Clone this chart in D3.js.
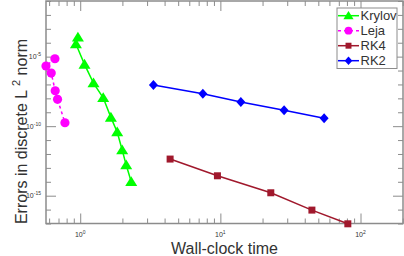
<!DOCTYPE html>
<html>
<head>
<meta charset="utf-8">
<script src="https://cdn.jsdelivr.net/npm/d3@7"></script>
<style>
body { margin: 0; background: #fff; }
text { font-family: "Liberation Sans", Arial, sans-serif; }
</style>
</head>
<body>
<div id="chart"></div>
<script>
//////////////////////////////////////////////////////////////////////////////
// Data (wall-clock time vs error)

var krylovTime = [0.963, 0.932, 1.073, 1.244, 1.459, 1.655, 1.836, 1.993, 2.129, 2.312];
var krylovErr  = [2.45e-4, 8.06e-5, 2.79e-6, 1.26e-7, 1.10e-8, 4.30e-10, 3.77e-11, 1.91e-12, 1.59e-13, 1.0e-14];

var lejaTime = [0.660, 0.570, 0.621, 0.663, 0.689, 0.778];
var lejaErr  = [7.06e-6, 2.11e-6, 6.6e-7, 3.52e-8, 8.47e-9, 1.76e-10];

var rk4Time = [4.38, 9.53, 22.9, 45.0, 81.2];
var rk4Err  = [4.30e-13, 2.70e-14, 1.62e-15, 9.2e-17, 9.5e-18];

var rk2Time = [3.33, 7.50, 14.0, 28.5, 55.0];
var rk2Err  = [9.06e-8, 2.14e-8, 5.42e-9, 1.37e-9, 3.64e-10];

var seriesNames = ["Krylov", "Leja", "RK4", "RK2"];

var xMajorExp = [0, 1, 2];
var yMajorExp = [-5, -10, -15];

//////////////////////////////////////////////////////////////////////////////

var svgWidth = 404, svgHeight = 256;
var plotLeft = 46, plotRight = 403, plotTop = 1, plotBottom = 223.5;
var frameColor = "#8c8c8c";

var xScale = d3.scaleLog().domain([0.57, 201]).range([plotLeft, plotRight]);
var yScale = d3.scaleLog().domain([1e-17, 1e-1]).range([plotBottom, plotTop]);

var series = [
    {name: seriesNames[0], x: krylovTime, y: krylovErr, color: "#00ff00", shape: "triangle", dash: null},
    {name: seriesNames[1], x: lejaTime,   y: lejaErr,   color: "#ff00ff", shape: "circle",   dash: "3,3"},
    {name: seriesNames[2], x: rk4Time,    y: rk4Err,    color: "#a0182c", shape: "square",   dash: null},
    {name: seriesNames[3], x: rk2Time,    y: rk2Err,    color: "#0000ff", shape: "diamond",  dash: null}
];

function markerPath(shape, s) {
    if (shape == "triangle") return "M0," + (-5.5 * s) + "L" + (6 * s) + "," + (4.3 * s) + "L" + (-6 * s) + "," + (4.3 * s) + "Z";
    if (shape == "diamond")  return "M0," + (-5 * s) + "L" + (4.5 * s) + ",0L0," + (5 * s) + "L" + (-4.5 * s) + ",0Z";
    if (shape == "square")   return "M" + (-3.5 * s) + "," + (-3.5 * s) + "h" + (7 * s) + "v" + (7 * s) + "h" + (-7 * s) + "Z";
    var r = 4.6 * s;
    return "M" + r + ",0A" + r + "," + r + " 0 1,1 " + (-r) + ",0A" + r + "," + r + " 0 1,1 " + r + ",0Z";
}

var svg = d3.select("#chart")
    .append("svg")
    .attr("width", svgWidth)
    .attr("height", svgHeight);

//////////////////////////////////////////////////////////////////////////////
// Frame and ticks (inward, mirrored on all four sides)

var xMinor = [];
for (var e = -1; e <= 2; ++e)
    for (var m = 2; m <= 9; ++m) {
        var v = m * Math.pow(10, e);
        if (v >= xScale.domain()[0] && v <= xScale.domain()[1]) xMinor.push(v);
    }
var xMajor = xMajorExp.map(function(e) { return Math.pow(10, e); });

var yMinor = d3.range(-17, 0).filter(function(e) { return e % 5 != 0; })
    .map(function(e) { return Math.pow(10, e); });
var yMajor = yMajorExp.map(function(e) { return Math.pow(10, e); });

function styleAxis(g) {
    g.select(".domain").remove();
    g.selectAll("line").attr("stroke", frameColor).attr("stroke-width", 1);
    g.selectAll("text").remove();
}

svg.append("g").attr("transform", "translate(0," + plotBottom + ")")
    .call(d3.axisBottom(xScale).tickValues(xMinor).tickSize(-5)).call(styleAxis);
svg.append("g").attr("transform", "translate(0," + plotBottom + ")")
    .call(d3.axisBottom(xScale).tickValues(xMajor).tickSize(-10)).call(styleAxis);
svg.append("g").attr("transform", "translate(0," + plotTop + ")")
    .call(d3.axisTop(xScale).tickValues(xMinor).tickSize(-5)).call(styleAxis);
svg.append("g").attr("transform", "translate(0," + plotTop + ")")
    .call(d3.axisTop(xScale).tickValues(xMajor).tickSize(-10)).call(styleAxis);

svg.append("g").attr("transform", "translate(" + plotLeft + ",0)")
    .call(d3.axisLeft(yScale).tickValues(yMinor).tickSize(-5)).call(styleAxis);
svg.append("g").attr("transform", "translate(" + plotLeft + ",0)")
    .call(d3.axisLeft(yScale).tickValues(yMajor).tickSize(-10)).call(styleAxis);
svg.append("g").attr("transform", "translate(" + plotRight + ",0)")
    .call(d3.axisRight(yScale).tickValues(yMinor).tickSize(-5)).call(styleAxis);
svg.append("g").attr("transform", "translate(" + plotRight + ",0)")
    .call(d3.axisRight(yScale).tickValues(yMajor).tickSize(-10)).call(styleAxis);

svg.append("rect")
    .attr("x", plotLeft).attr("y", plotTop)
    .attr("width", plotRight - plotLeft).attr("height", plotBottom - plotTop)
    .attr("fill", "none")
    .attr("stroke", frameColor)
    .attr("stroke-width", 1.5);

// tick labels 10^n
var xLab = svg.append("g").selectAll("text")
    .data(xMajorExp).enter()
    .append("text")
    .attr("x", function(d) { return xScale(Math.pow(10, d)); })
    .attr("y", 236.5)
    .attr("text-anchor", "middle")
    .attr("font-size", 7)
    .attr("fill", "#333");
xLab.append("tspan").text("10");
xLab.append("tspan").attr("dy", -3).attr("font-size", 5).text(function(d) { return d; });

var yLab = svg.append("g").selectAll("text")
    .data(yMajorExp).enter()
    .append("text")
    .attr("x", 41)
    .attr("y", function(d) { return yScale(Math.pow(10, d)) + 2.5; })
    .attr("text-anchor", "end")
    .attr("font-size", 7)
    .attr("fill", "#333");
yLab.append("tspan").text("10");
yLab.append("tspan").attr("dy", -3).attr("font-size", 5).text(function(d) { return d; });

//////////////////////////////////////////////////////////////////////////////
// Series

var line = d3.line()
    .x(function(d) { return xScale(d[0]); })
    .y(function(d) { return yScale(d[1]); });

series.forEach(function(s) {
    var pts = s.x.map(function(v, i) { return [v, s.y[i]]; });
    var g = svg.append("g");
    g.append("path")
        .datum(pts)
        .attr("d", line)
        .attr("fill", "none")
        .attr("stroke", s.color)
        .attr("stroke-width", 1.5)
        .attr("stroke-dasharray", s.dash);
    g.selectAll("path.mk")
        .data(pts).enter()
        .append("path")
        .attr("class", "mk")
        .attr("transform", function(d) { return "translate(" + xScale(d[0]) + "," + yScale(d[1]) + ")"; })
        .attr("d", markerPath(s.shape, 1))
        .attr("fill", s.color);
});

//////////////////////////////////////////////////////////////////////////////
// Legend

var legend = svg.append("g");
legend.append("rect")
    .attr("x", 337).attr("y", 8)
    .attr("width", 60).attr("height", 60.5)
    .attr("fill", "#fff")
    .attr("stroke", frameColor)
    .attr("stroke-width", 1);

var entry = legend.selectAll("g.entry")
    .data(series).enter()
    .append("g")
    .attr("class", "entry")
    .attr("transform", function(d, i) { return "translate(0," + (15.7 + i * 15) + ")"; });

entry.append("line")
    .attr("x1", 338).attr("x2", 359)
    .attr("stroke", function(d) { return d.color; })
    .attr("stroke-width", 1.5)
    .attr("stroke-dasharray", function(d) { return d.dash; });
entry.append("path")
    .attr("transform", "translate(348.5,0)")
    .attr("d", function(d) { return markerPath(d.shape, 0.85); })
    .attr("fill", function(d) { return d.color; });
entry.append("text")
    .attr("x", 360.5).attr("y", 4.7)
    .attr("font-size", 13)
    .attr("fill", "#333")
    .text(function(d) { return d.name; });

//////////////////////////////////////////////////////////////////////////////
// Axis titles

svg.append("text")
    .attr("x", 224.5).attr("y", 253.5)
    .attr("text-anchor", "middle")
    .attr("font-size", 16)
    .attr("fill", "#333")
    .text("Wall-clock time");

var yTitle = svg.append("text")
    .attr("transform", "translate(27,131.5) rotate(-90)")
    .attr("text-anchor", "middle")
    .attr("font-size", 16)
    .attr("fill", "#333");
yTitle.append("tspan").text("Errors in discrete L ");
yTitle.append("tspan").attr("dy", -7).attr("font-size", 11).text("2");
yTitle.append("tspan").attr("dy", 7).text(" norm");
</script>
</body>
</html>
